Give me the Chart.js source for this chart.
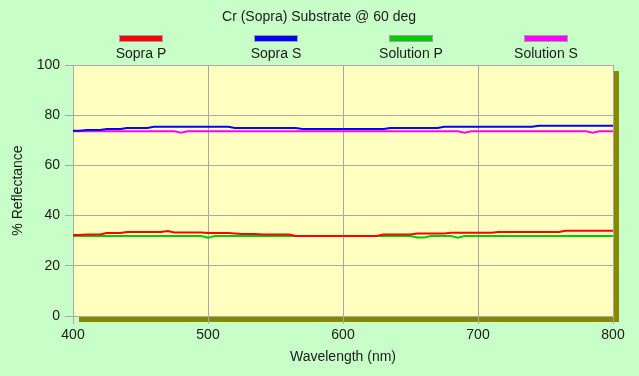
<!DOCTYPE html>
<html>
<head>
<meta charset="utf-8">
<script src="https://cdn.jsdelivr.net/npm/chart.js@4/dist/chart.umd.min.js"></script>
<style>
  html, body { margin: 0; padding: 0; background: #C8FFC8; }
  #wrap { width: 639px; height: 376px; }
</style>
</head>
<body>
<div id="wrap"><canvas id="chart" width="639" height="376"></canvas></div>
<script>
// wavelength grid, 5 nm steps
const wavelengths = [];
for (let w = 400; w <= 800; w += 5) wavelengths.push(w);

const seriesNames = ['Sopra P', 'Sopra S', 'Solution P', 'Solution S'];
const seriesColors = ['#FF0000', '#0000FF', '#00CC00', '#FF00FF'];

const sopraP = [
  32.3, 32.3, 32.5, 32.5, 32.5, 33.1, 33.1, 33.1, 33.5, 33.5,
  33.5, 33.5, 33.5, 33.5, 33.9, 33.3, 33.3, 33.3, 33.3, 33.3,
  33.1, 33.1, 33.1, 33.1, 32.9, 32.7, 32.7, 32.7, 32.5, 32.5,
  32.5, 32.5, 32.5, 31.9, 31.9, 31.9, 31.9, 31.9, 31.9, 31.9,
  31.9, 31.9, 31.9, 31.9, 31.9, 31.9, 32.5, 32.5, 32.5, 32.5,
  32.5, 32.9, 32.9, 32.9, 32.9, 32.9, 33.2, 33.2, 33.2, 33.2,
  33.2, 33.2, 33.2, 33.5, 33.5, 33.5, 33.5, 33.5, 33.5, 33.5,
  33.5, 33.5, 33.5, 34.0, 34.0, 34.0, 34.0, 34.0, 34.0, 34.0,
  34.0
];
const sopraS = [
  73.8, 73.8, 74.1, 74.1, 74.1, 74.5, 74.5, 74.5, 74.9, 74.9,
  74.9, 74.9, 75.4, 75.4, 75.4, 75.4, 75.4, 75.4, 75.4, 75.4,
  75.4, 75.4, 75.4, 75.4, 74.9, 74.9, 74.9, 74.9, 74.9, 74.9,
  74.9, 74.9, 74.9, 74.9, 74.5, 74.5, 74.5, 74.5, 74.5, 74.5,
  74.5, 74.5, 74.5, 74.5, 74.5, 74.5, 74.5, 74.9, 74.9, 74.9,
  74.9, 74.9, 74.9, 74.9, 74.9, 75.4, 75.4, 75.4, 75.4, 75.4,
  75.4, 75.4, 75.4, 75.4, 75.4, 75.4, 75.4, 75.4, 75.4, 75.8,
  75.8, 75.8, 75.8, 75.8, 75.8, 75.8, 75.8, 75.8, 75.8, 75.8,
  75.8
];
const solutionP = [
  31.9, 31.9, 31.9, 31.9, 31.9, 31.9, 31.9, 31.9, 31.9, 31.9,
  31.9, 31.9, 31.9, 31.9, 31.9, 31.9, 31.9, 31.9, 31.9, 31.9,
  31.2, 31.9, 31.9, 31.9, 31.9, 31.9, 31.9, 31.9, 31.9, 31.9,
  31.9, 31.9, 31.9, 31.9, 31.9, 31.9, 31.9, 31.9, 31.9, 31.9,
  31.9, 31.9, 31.9, 31.9, 31.9, 31.9, 31.9, 31.9, 31.9, 31.9,
  31.9, 31.3, 31.3, 31.9, 31.9, 31.9, 31.9, 31.2, 31.9, 31.9,
  31.9, 31.9, 31.9, 31.9, 31.9, 31.9, 31.9, 31.9, 31.9, 31.9,
  31.9, 31.9, 31.9, 31.9, 31.9, 31.9, 31.9, 31.9, 31.9, 31.9,
  31.9
];
const solutionS = [
  73.6, 73.6, 73.6, 73.6, 73.6, 73.6, 73.6, 73.6, 73.6, 73.6,
  73.6, 73.6, 73.6, 73.6, 73.6, 73.6, 73.0, 73.6, 73.6, 73.6,
  73.6, 73.6, 73.6, 73.6, 73.6, 73.6, 73.6, 73.6, 73.6, 73.6,
  73.6, 73.6, 73.6, 73.6, 73.6, 73.6, 73.6, 73.6, 73.6, 73.6,
  73.6, 73.6, 73.6, 73.6, 73.6, 73.6, 73.6, 73.6, 73.6, 73.6,
  73.6, 73.6, 73.6, 73.6, 73.6, 73.6, 73.6, 73.6, 73.0, 73.6,
  73.6, 73.6, 73.6, 73.6, 73.6, 73.6, 73.6, 73.6, 73.6, 73.6,
  73.6, 73.6, 73.6, 73.6, 73.6, 73.6, 73.6, 73.0, 73.6, 73.6,
  73.6
];
const seriesValues = [sopraP, sopraS, solutionP, solutionS];

const chartTitle = 'Cr (Sopra) Substrate @ 60 deg';
const xTitle = 'Wavelength (nm)';
const yTitle = '% Reflectance';

const FONT = '"Liberation Sans", Arial, sans-serif';
const TEXT = '#1a1a1a';
const GRID = '#A8A8A8';

// background, olive drop shadow, yellow plot area
const backdrop = {
    id: 'backdrop',
    beforeDraw(chart) {
        const { ctx, chartArea: a } = chart;
        ctx.save();
        ctx.fillStyle = '#C8FFC8';
        ctx.fillRect(0, 0, chart.width, chart.height);
        ctx.fillStyle = '#888800';
        ctx.fillRect(a.left + 6, a.top + 6, a.right - a.left, a.bottom - a.top);
        ctx.fillStyle = '#FFFFC0';
        ctx.fillRect(a.left, a.top, a.right - a.left, a.bottom - a.top);
        ctx.restore();
    }
};

// title and legend (colour bar above each name)
const header = {
    id: 'header',
    afterDraw(chart) {
        const ctx = chart.ctx;
        ctx.save();
        ctx.fillStyle = TEXT;
        ctx.textAlign = 'center';
        ctx.textBaseline = 'middle';
        ctx.font = '14px ' + FONT;
        ctx.fillText(chartTitle, 319, 17);

        seriesNames.forEach((name, i) => {
            const cx = 141 + i * 135;
            ctx.fillStyle = seriesColors[i];
            ctx.fillRect(cx - 22, 36, 44, 6);
            ctx.strokeStyle = '#A0A0A0';
            ctx.lineWidth = 1;
            ctx.strokeRect(cx - 22 + 0.5, 35.5, 43, 6);
            ctx.fillStyle = TEXT;
            ctx.fillText(name, cx, 54);
        });
        ctx.restore();
    }
};

new Chart(document.getElementById('chart'), {
    type: 'line',
    data: {
        datasets: seriesNames.map((name, i) => ({
            label: name,
            data: wavelengths.map((w, j) => ({ x: w, y: seriesValues[i][j] })),
            borderColor: seriesColors[i],
            backgroundColor: seriesColors[i],
            borderWidth: 2,
            pointRadius: 0,
            tension: 0
        }))
    },
    options: {
        responsive: false,
        animation: false,
        layout: { padding: { left: 0, top: 65, right: 26, bottom: 0 } },
        plugins: {
            legend: { display: false },
            title: { display: false },
            tooltip: { enabled: false }
        },
        scales: {
            x: {
                type: 'linear',
                min: 400,
                max: 800,
                ticks: { stepSize: 100, color: TEXT, font: { family: FONT, size: 14 }, padding: 3 },
                grid: { color: GRID, tickLength: 8, tickColor: GRID },
                border: { color: GRID },
                title: { display: true, text: xTitle, color: TEXT, font: { family: FONT, size: 14 }, padding: { top: 4, bottom: 10 } },
                afterFit(scale) { scale.height = 60; }
            },
            y: {
                min: 0,
                max: 100,
                ticks: { stepSize: 20, color: TEXT, font: { family: FONT, size: 14 }, padding: 5 },
                grid: { color: GRID, tickLength: 8, tickColor: GRID },
                border: { color: GRID },
                title: { display: true, text: yTitle, color: TEXT, font: { family: FONT, size: 14 }, padding: { top: 10, bottom: 4 } },
                afterFit(scale) { scale.width = 73; }
            }
        }
    },
    plugins: [backdrop, header]
});
</script>
</body>
</html>
